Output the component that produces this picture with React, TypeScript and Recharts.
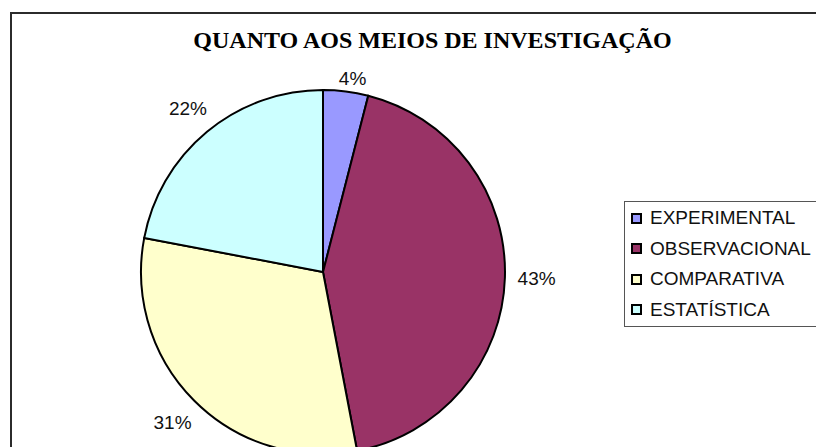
import React from "react";
import { PieChart, Pie, Cell, Legend } from "recharts";

const categories = ["EXPERIMENTAL", "OBSERVACIONAL", "COMPARATIVA", "ESTATÍSTICA"];
const values = [4, 43, 31, 22];
const colors = ["#9999FF", "#993366", "#FFFFCC", "#CCFFFF"];
const title = "QUANTO AOS MEIOS DE INVESTIGAÇÃO";

const data = categories.map((name, i) => ({ name, value: values[i] }));
const total = values.reduce((a, b) => a + b, 0);

const RAD = Math.PI / 180;
const LABEL_MIN_Y = 78;

const renderLabel = (props: any) => {
  const { cx, cy, midAngle, outerRadius, value } = props;
  const text = `${Math.round((value / total) * 100)}%`;
  const ux = Math.cos(-midAngle * RAD);
  const uy = Math.sin(-midAngle * RAD);
  const hw = text.length * 6.5;
  const hh = 7;
  const d = outerRadius + 12 + Math.abs(ux) * hw + Math.abs(uy) * hh;
  let x = cx + ux * d;
  let y = cy + uy * d;
  if (y < LABEL_MIN_Y) {
    x += (LABEL_MIN_Y - y) * 0.6;
    y = LABEL_MIN_Y;
  }
  return (
    <text
      x={x}
      y={y}
      textAnchor="middle"
      dominantBaseline="central"
      fontFamily="'Liberation Sans', Arial, sans-serif"
      fontSize={19}
      fill="#111"
    >
      {text}
    </text>
  );
};

const LegendContent = () => (
  <div
    style={{
      position: "absolute",
      left: 624,
      top: 201,
      width: 220,
      height: 126,
      border: "1.5px solid #555",
      boxSizing: "border-box",
      background: "#fff",
      fontFamily: "'Liberation Sans', Arial, sans-serif",
      fontSize: 19,
      color: "#111",
    }}
  >
    {data.map((d, i) => (
      <div
        key={d.name}
        style={{
          position: "absolute",
          left: 6,
          top: 5 + i * 30.5,
          height: 22,
          display: "flex",
          alignItems: "center",
          whiteSpace: "nowrap",
        }}
      >
        <span
          style={{
            display: "inline-block",
            width: 11,
            height: 11,
            boxSizing: "border-box",
            border: "2px solid #000",
            background: colors[i],
            marginRight: 8,
          }}
        />
        <span>{d.name}</span>
      </div>
    ))}
  </div>
);

export default function App() {
  return (
    <div
      style={{
        position: "absolute",
        left: 0,
        top: 0,
        width: 816,
        height: 447,
        overflow: "hidden",
        background: "#fff",
      }}
    >
      <div
        style={{
          position: "absolute",
          left: 10,
          top: 12,
          width: 900,
          height: 500,
          borderLeft: "2px solid #2b2b2b",
          borderTop: "2px solid #2b2b2b",
        }}
      />
      <div
        style={{
          position: "absolute",
          left: 190,
          top: 26,
          width: 485,
          textAlign: "center",
          fontFamily: "'Liberation Serif', 'Times New Roman', serif",
          fontWeight: "bold",
          fontSize: 24,
          lineHeight: "28px",
          color: "#000",
          whiteSpace: "nowrap",
        }}
      >
        {title}
      </div>
      <div style={{ position: "absolute", left: 0, top: 0 }}>
        <PieChart width={816} height={447}>
          <Pie
            data={data}
            dataKey="value"
            nameKey="name"
            cx={318}
            cy={267}
            outerRadius={182}
            startAngle={90}
            endAngle={-270}
            stroke="#000"
            strokeWidth={2}
            label={renderLabel}
            labelLine={false}
            isAnimationActive={false}
          >
            {data.map((d, i) => (
              <Cell key={d.name} fill={colors[i]} />
            ))}
          </Pie>
          <Legend content={() => null} />
        </PieChart>
      </div>
      <LegendContent />
    </div>
  );
}
